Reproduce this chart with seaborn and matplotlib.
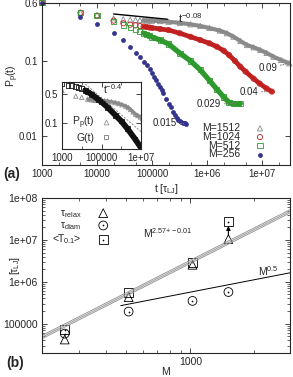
import numpy as np
import pandas as pd
import seaborn as sns
import matplotlib
matplotlib.use('Agg')
import matplotlib.pyplot as plt
from matplotlib.ticker import FixedLocator, NullFormatter
from matplotlib.legend_handler import HandlerTuple

sns.set_style('ticks')
plt.rcParams['font.family'] = ['Liberation Sans', 'DejaVu Sans']
plt.rcParams['mathtext.fontset'] = 'custom'
plt.rcParams['mathtext.rm'] = 'Liberation Sans'
plt.rcParams['mathtext.it'] = 'Liberation Sans'
plt.rcParams['mathtext.bf'] = 'Liberation Sans:bold'
plt.rcParams['mathtext.sf'] = 'Liberation Sans'
plt.rcParams['axes.linewidth'] = 0.8

# ---- panel (a): P_p(t) for each chain length
t_1512 = [1e3, 5e3, 1e4, 2e4, 3e4, 4e4, 5e4, 6e4, 7e4, 8e4, 9e4, 1e5, 1.4e5, 2e5, 3.2e5,
          5e5, 7.5e5, 1.1e6, 1.7e6, 2.3e6, 3e6, 4e6, 5.3e6, 7e6, 9.2e6, 1.2e7, 1.6e7, 2.2e7, 3.1e7]
p_1512 = [0.6, 0.44, 0.41, 0.37, 0.36, 0.356, 0.352, 0.35, 0.349, 0.347, 0.346, 0.345, 0.34, 0.333, 0.322,
          0.308, 0.293, 0.275, 0.254, 0.234, 0.211, 0.185, 0.163, 0.152, 0.14, 0.128, 0.114, 0.103, 0.093]

t_1024 = [1e3, 5e3, 1e4, 2e4, 3e4, 4e4, 5e4, 6e4, 7e4, 8e4, 9e4, 1e5, 1.4e5, 2e5, 3.2e5, 5e5,
          7.5e5, 1.1e6, 1.5e6, 2e6, 2.5e6, 3.2e6, 4e6, 5e6, 7e6, 9e6, 1.2e7, 1.5e7]
p_1024 = [0.6, 0.44, 0.4, 0.345, 0.318, 0.305, 0.298, 0.292, 0.287, 0.283, 0.279, 0.276, 0.267, 0.258, 0.234, 0.21,
          0.19, 0.172, 0.155, 0.137, 0.12, 0.1, 0.084, 0.072, 0.058, 0.05, 0.043, 0.039]

t_512 = [1e3, 5e3, 1e4, 2e4, 3e4, 4e4, 5e4, 6e4, 7e4, 8e4, 9e4, 1e5, 1.4e5, 2e5, 3.2e5, 5e5,
         7.5e5, 1.1e6, 1.5e6, 2e6, 2.5e6, 3e6, 3.5e6, 4e6]
p_512 = [0.6, 0.44, 0.4, 0.335, 0.302, 0.28, 0.262, 0.247, 0.235, 0.225, 0.216, 0.208, 0.19, 0.168, 0.127, 0.1,
         0.076, 0.055, 0.042, 0.033, 0.028, 0.027, 0.027, 0.027]

t_256 = [1e3, 5e3, 1e4, 2e4, 3e4, 4e4, 5e4, 6e4, 7e4, 8e4, 9e4, 1e5, 1.1e5, 1.2e5, 1.3e5, 1.4e5, 1.5e5,
         1.6e5, 1.8e5, 2e5, 2.2e5, 2.4e5, 2.6e5, 2.8e5, 3e5, 3.2e5, 3.4e5, 3.6e5, 3.8e5, 4e5, 4.2e5]
p_256 = [0.6, 0.383, 0.311, 0.234, 0.19, 0.155, 0.129, 0.112, 0.098, 0.087, 0.078, 0.069, 0.062, 0.055, 0.05,
         0.045, 0.041, 0.037, 0.031, 0.027, 0.024, 0.021, 0.019, 0.0175, 0.0165, 0.0157, 0.0152, 0.015, 0.0148,
         0.0147, 0.0145]

end_labels = ['0.09', '0.04', '0.029', '0.015']

# power law guide t^-0.08
guide_t = [2e4, 1.9e5]
guide_p = [0.423, 0.36]

# inset: G(t) and t^-0.4
t_G = [1e3, 2e3, 3e3, 5e3, 7e3, 1e4, 1.5e4, 2e4, 3e4, 5e4, 7e4, 1e5, 2e5, 5e5, 1e6, 2e6, 5e6, 1e7]
p_G = [0.85, 0.8, 0.78, 0.74, 0.71, 0.66, 0.6, 0.55, 0.49, 0.41, 0.36, 0.32, 0.24, 0.155, 0.112, 0.075, 0.042, 0.026]
slope_t = [1.5e4, 1e7]
slope_p = [0.85, 0.063]

# ---- panel (b): time scales vs M
M = [256, 512, 1024, 1512]
tau_relax = [4.2e4, 4.3e5, 2.55e6, 1.05e7]
tau_diam = [5.8e4, 1.95e5, 3.5e5, 5.7e5]
T01 = [7.2e4, 5.5e5, 2.9e6, 2.7e7]
fit_M = [200, 2950]
fit_lo = [4.4e4, 4.4e7]
fit_mid = [4.8e4, 4.8e7]
fit_hi = [5.25e4, 5.25e7]
sqrt_M = [470, 2950]
sqrt_tau = [2.7e5, 1.64e6]

C_GRAY, C_RED, C_GREEN, C_BLUE = '#8a8a8a', '#c02020', '#2e9a2e', '#34348f'

W, H = 293, 377
fig = plt.figure(figsize=(W / 100, H / 100), dpi=100)


def rect(x0, y0, x1, y1):
    return [x0 / W, 1 - y1 / H, (x1 - x0) / W, (y1 - y0) / H]


def style_axis(ax, size):
    ax.tick_params(which='both', direction='in', top=True, right=True, labelsize=size, pad=3)
    ax.tick_params(which='major', length=3.5, width=0.6)
    ax.tick_params(which='minor', length=2, width=0.5)


def series(ax, t, p, color, marker, s, filled, band_from=None, lw=3.0):
    df = pd.DataFrame({'t': t, 'p': p})
    if band_from is not None:
        sns.lineplot(data=df[df.t >= band_from], x='t', y='p', ax=ax, color=color, lw=lw,
                     estimator=None, sort=False, legend=False, solid_capstyle='round')
    if filled:
        sc = sns.scatterplot(data=df, x='t', y='p', ax=ax, color=color, marker=marker, s=s,
                             linewidth=0, legend=False, clip_on=False)
    else:
        sc = sns.scatterplot(data=df, x='t', y='p', ax=ax, marker=marker, s=s, facecolors='none',
                             edgecolor=color, linewidth=0.6, legend=False, clip_on=False)
    return sc.collections[-1]


# ================= panel (a)
ax = fig.add_axes(rect(42, 2.6, 290, 165))
ax.set_xscale('log')
ax.set_yscale('log')
h1512 = series(ax, t_1512, p_1512, C_GRAY, '^', 14, False, band_from=7e4, lw=3.0)
h1024 = series(ax, t_1024, p_1024, C_RED, 'o', 14, False, band_from=7e4, lw=3.4)
h512 = series(ax, t_512, p_512, C_GREEN, 's', 14, False, band_from=7e4, lw=3.8)
h256 = series(ax, t_256, p_256, C_BLUE, 'o', 12, True)
sns.lineplot(x=guide_t, y=guide_p, ax=ax, color='black', lw=1.0, estimator=None)
ax.set_xlim(1000, 3.2e7)
ax.set_ylim(0.0041, 0.6)
ax.set_xticks([1e3, 1e4, 1e5, 1e6, 1e7], ['1000', '10000', '100000', '1e+06', '1e+07'])
ax.xaxis.set_minor_locator(FixedLocator([a * 10.0 ** k for k in range(3, 8) for a in (2, 5)]))
ax.xaxis.set_minor_formatter(NullFormatter())
ax.set_yticks([0.01, 0.1, 0.6], ['0.01', '0.1', '0.6'])
ax.yaxis.set_minor_locator(FixedLocator([]))
style_axis(ax, 7)
ax.set_xlabel(r'$\mathrm{t}\ [\tau_{\mathrm{LJ}}]$', fontsize=7.5, labelpad=2)
ax.set_ylabel('')
ax.text(2.97e5, 0.32, r'$\mathrm{t}^{-0.08}$', fontsize=8, va='baseline')

label_pos = [(1.86e7, 0.081), (8.5e6, 0.0386), (1.8e6, 0.0267), (2.85e5, 0.0149)]
ends = [(t_1512[-1], p_1512[-1]), (t_1024[-1], p_1024[-1]), (t_512[-1], p_512[-1]), (t_256[-1], p_256[-1])]
for lab, pos, end in zip(end_labels, label_pos, ends):
    ax.annotate(lab, xy=end, xytext=pos, fontsize=7, ha='right', va='center',
                arrowprops=dict(arrowstyle='-', linestyle=':', color='#777777', lw=0.7,
                                shrinkA=0, shrinkB=2))

leg = ax.legend([h1512, h1024, h512, h256], ['M=1512', 'M=1024', 'M=512', 'M=256'],
                loc='lower right', bbox_to_anchor=(0.925, -0.01), frameon=False, markerfirst=False,
                fontsize=7.5, labelspacing=-0.12, handlelength=0.8, handletextpad=1.5, borderpad=0.2)
for t in leg.get_texts():
    t.set_ha('right')

# inset
ins = fig.add_axes(rect(62, 82, 141, 148.5))
ins.set_facecolor('white')
ins.set_xscale('log')
ins.set_yscale('log')
hP = series(ins, t_1512, p_1512, C_GRAY, '^', 10, False, band_from=2e4, lw=2.4)
hG = series(ins, t_G, p_G, '#111111', 's', 12, False, band_from=1.5e4, lw=4.2)
sns.lineplot(x=slope_t, y=slope_p, ax=ins, color='#888888', lw=0.7, linestyle=(0, (2, 1.5)), estimator=None)
for c in ins.collections:
    c.set_clip_on(True)
ins.set_xlim(1000, 1e7)
ins.set_ylim(0.025, 0.95)
ins.set_xticks([1e3, 1e5, 1e7], ['1000', '100000', '1e+07'])
ins.xaxis.set_minor_locator(FixedLocator([1e4, 1e6]))
ins.xaxis.set_minor_formatter(NullFormatter())
ins.set_yticks([0.1, 0.5], ['0.1', '0.5'])
ins.yaxis.set_minor_locator(FixedLocator([]))
style_axis(ins, 7)
ins.set_xlabel('')
ins.set_ylabel('')
ins.text(1.2e5, 0.5, r'$\mathrm{t}^{-0.4}$', fontsize=7.5, va='baseline')
hP_leg = plt.Line2D([], [], ls='', marker='^', ms=3.5, mfc='none', mec='#999999', mew=0.6)
hG_leg = plt.Line2D([], [], ls='', marker='s', ms=3.5, mfc='none', mec='#777777', mew=0.6)
lg2 = ins.legend([hP_leg, hG_leg], [r'$\mathrm{P_p(t)}$', 'G(t)'], loc='lower right',
                 bbox_to_anchor=(0.72, -0.02), frameon=False, markerfirst=False, fontsize=7.5,
                 labelspacing=0.15, handlelength=1.0, handletextpad=0.6, borderpad=0.2)

fig.text(13 / W, 1 - 76 / H, r'$\mathrm{P_p(t)}$', rotation=90, fontsize=7.5, ha='center', va='center')
fig.text(12 / W, 1 - 174 / H, '(a)', fontsize=10, fontweight='bold', ha='center', va='center')

# ================= panel (b)
bx = fig.add_axes(rect(42, 198, 290, 353))
bx.set_xscale('log')
bx.set_yscale('log')
for yy in (fit_lo, fit_mid, fit_hi):
    sns.lineplot(x=fit_M, y=yy, ax=bx, color='#9a9a9a', lw=0.7, estimator=None)
sns.lineplot(x=sqrt_M, y=sqrt_tau, ax=bx, color='black', lw=0.7, estimator=None)
df_b = pd.DataFrame({'M': M, 'relax': tau_relax, 'diam': tau_diam, 'T01': T01})
hr = sns.scatterplot(data=df_b, x='M', y='relax', ax=bx, marker='^', s=40, facecolors='none',
                     edgecolor='black', linewidth=0.6, legend=False).collections[-1]
hd = sns.scatterplot(data=df_b, x='M', y='diam', ax=bx, marker='o', s=40, facecolors='none',
                     edgecolor='black', linewidth=0.6, legend=False).collections[-1]
hdd = sns.scatterplot(data=df_b, x='M', y='diam', ax=bx, marker='o', s=1.5, color='black',
                      linewidth=0, legend=False).collections[-1]
hs = sns.scatterplot(data=df_b, x='M', y='T01', ax=bx, marker='s', s=40, facecolors='none',
                     edgecolor='black', linewidth=0.6, legend=False).collections[-1]
hsd = sns.scatterplot(data=df_b, x='M', y='T01', ax=bx, marker='o', s=1.5, color='black',
                      linewidth=0, legend=False).collections[-1]
bx.annotate('', xy=(M[-1], T01[-1] * 0.8), xytext=(M[-1], tau_relax[-1] * 1.2),
            arrowprops=dict(arrowstyle='-|>', color='black', lw=0.8, mutation_scale=6,
                            shrinkA=0, shrinkB=0))
bx.set_xlim(200, 2950)
bx.set_ylim(2e4, 1e8)
bx.set_xticks([1000], ['1000'])
bx.xaxis.set_minor_locator(FixedLocator([200, 300, 400, 500, 600, 700, 800, 900, 2000]))
bx.xaxis.set_minor_formatter(NullFormatter())
bx.set_yticks([1e5, 1e6, 1e7, 1e8], ['100000', '1e+06', '1e+07', '1e+08'])
bx.yaxis.set_minor_locator(FixedLocator([a * 10.0 ** k for k in range(4, 8) for a in range(2, 10)]))
bx.yaxis.set_minor_formatter(NullFormatter())
style_axis(bx, 7.5)
bx.set_xlabel('M', fontsize=7.5, labelpad=0)
bx.set_ylabel('')
bx.text(596, 1.1e7, r'$\mathrm{M}^{2.57\mathrm{+-}0.01}$', fontsize=7.5, va='baseline')
bx.text(2078, 1.39e6, r'$\mathrm{M}^{0.5}$', fontsize=7.5, va='baseline')
bx.legend([hr, (hd, hdd), (hs, hsd)],
          [r'$\tau_{\mathrm{relax}}$', r'$\tau_{\mathrm{diam}}$', r'<T$_{0.1}$>'],
          handler_map={tuple: HandlerTuple(ndivide=1, pad=0)},
          loc='upper left', bbox_to_anchor=(0.0, 1.0), frameon=False, markerfirst=False,
          fontsize=7.5, labelspacing=0.05, handlelength=1.2, handletextpad=1.5, borderpad=0.45)
fig.text(15 / W, 1 - 265 / H, r'[$\tau_{\mathrm{LJ}}$]', rotation=90, fontsize=7.5, ha='center', va='center')
fig.text(15 / W, 1 - 363 / H, '(b)', fontsize=10, fontweight='bold', ha='center', va='center')

fig.savefig('out.png', dpi=100)
